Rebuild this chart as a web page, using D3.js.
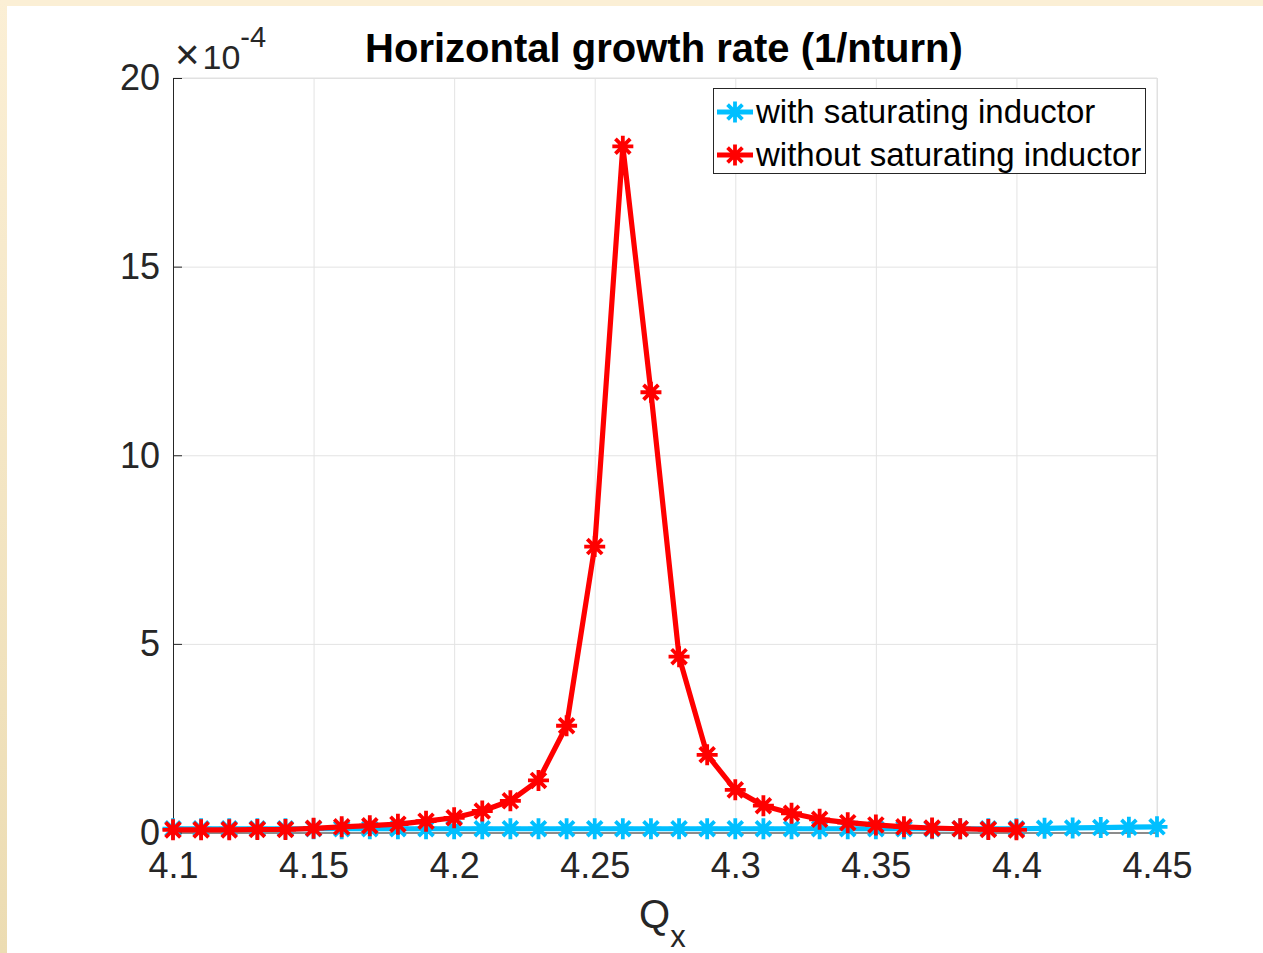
<!DOCTYPE html>
<html>
<head>
<meta charset="utf-8">
<script src="https://cdn.jsdelivr.net/npm/d3@7"></script>
<style>
  body { margin: 0; background: #fff; }
  text { font-family: "Liberation Sans", Arial, Helvetica, sans-serif; }
</style>
</head>
<body>
<svg id="chart" width="1263" height="953"></svg>
<script>
// Qx values for each series
const qxWith = [4.10, 4.11, 4.12, 4.13, 4.14, 4.15, 4.16, 4.17, 4.18, 4.19,
  4.20, 4.21, 4.22, 4.23, 4.24, 4.25, 4.26, 4.27, 4.28, 4.29,
  4.30, 4.31, 4.32, 4.33, 4.34, 4.35, 4.36, 4.37, 4.38, 4.39,
  4.40, 4.41, 4.42, 4.43, 4.44, 4.45];
// growth rate, units of 1e-4
const rateWith = [0.10, 0.10, 0.10, 0.10, 0.10, 0.10, 0.10, 0.10, 0.10, 0.10,
  0.10, 0.10, 0.10, 0.10, 0.10, 0.10, 0.10, 0.10, 0.10, 0.10,
  0.10, 0.10, 0.10, 0.10, 0.10, 0.10, 0.10, 0.10, 0.10, 0.10,
  0.10, 0.11, 0.12, 0.13, 0.14, 0.15];

const qxWithout = [4.10, 4.11, 4.12, 4.13, 4.14, 4.15, 4.16, 4.17, 4.18, 4.19,
  4.20, 4.21, 4.22, 4.23, 4.24, 4.25, 4.26, 4.27, 4.28, 4.29,
  4.30, 4.31, 4.32, 4.33, 4.34, 4.35, 4.36, 4.37, 4.38, 4.39, 4.40];
const rateWithout = [0.07, 0.07, 0.07, 0.08, 0.08, 0.11, 0.15, 0.18, 0.22, 0.30,
  0.39, 0.57, 0.84, 1.38, 2.83, 7.58, 18.19, 11.67, 4.66, 2.06,
  1.13, 0.71, 0.51, 0.35, 0.26, 0.20, 0.15, 0.12, 0.10, 0.08, 0.07];

const xTicks = [4.1, 4.15, 4.2, 4.25, 4.3, 4.35, 4.4, 4.45];
const xTickLabels = ["4.1", "4.15", "4.2", "4.25", "4.3", "4.35", "4.4", "4.45"];
const yTicks = [0, 5, 10, 15, 20];

const seriesNames = ["with saturating inductor", "without saturating inductor"];
const seriesColors = ["#00bfff", "#ff0000"];

const svg = d3.select("#chart");

// beige frame at top and left
const defs = svg.append("defs");
const grad = defs.append("linearGradient").attr("id", "beige").attr("x1", 0).attr("y1", 0).attr("x2", 0).attr("y2", 1);
grad.append("stop").attr("offset", "0%").attr("stop-color", "#fbefd5");
grad.append("stop").attr("offset", "100%").attr("stop-color", "#ecdcb2");
svg.append("rect").attr("x", 0).attr("y", 0).attr("width", 1263).attr("height", 6).attr("fill", "#fbefd5");
svg.append("rect").attr("x", 0).attr("y", 0).attr("width", 7).attr("height", 953).attr("fill", "url(#beige)");

const area = { left: 173, right: 1157, top: 78, bottom: 832.5 };

const xScale = d3.scaleLinear().domain([4.1, 4.45]).range([area.left, area.right]);
const yScale = d3.scaleLinear().domain([0, 20]).range([area.bottom, area.top]);

// grid
svg.append("g").attr("transform", `translate(0,${area.bottom})`)
  .call(d3.axisBottom(xScale).tickValues(xTicks).tickFormat("").tickSize(-(area.bottom - area.top)))
  .call((g) => g.select(".domain").remove())
  .call((g) => g.selectAll("line").attr("stroke", "#e3e3e3").attr("stroke-width", 1));
svg.append("g").attr("transform", `translate(${area.left},0)`)
  .call(d3.axisLeft(yScale).tickValues(yTicks).tickFormat("").tickSize(-(area.right - area.left)))
  .call((g) => g.select(".domain").remove())
  .call((g) => g.selectAll("line").attr("stroke", "#e3e3e3").attr("stroke-width", 1));

// box: light top and right edges
svg.append("line").attr("x1", area.left).attr("x2", area.right).attr("y1", area.top).attr("y2", area.top).attr("stroke", "#e0e0e0");
svg.append("line").attr("x1", area.right).attr("x2", area.right).attr("y1", area.top).attr("y2", area.bottom).attr("stroke", "#e0e0e0");

// axes (inside ticks)
const xAxis = svg.append("g").attr("transform", `translate(0,${area.bottom})`)
  .call(d3.axisBottom(xScale).tickValues(xTicks).tickFormat((d, i) => xTickLabels[i]).tickSizeInner(-9).tickSizeOuter(0).tickPadding(20));
const yAxis = svg.append("g").attr("transform", `translate(${area.left},0)`)
  .call(d3.axisLeft(yScale).tickValues(yTicks).tickSizeInner(-9).tickSizeOuter(0).tickPadding(13));
[xAxis, yAxis].forEach((g) => {
  g.select(".domain").attr("stroke", "#262626").attr("stroke-width", 1);
  g.selectAll(".tick line").attr("stroke", "#262626");
  g.selectAll(".tick text").attr("fill", "#262626").attr("font-size", 36)
    .attr("font-family", "'Liberation Sans', Arial, sans-serif");
});
xAxis.selectAll(".tick text").attr("dy", "0.71em");
yAxis.selectAll(".tick text").attr("dy", "0.33em");

// asterisk marker: + and x combined
function asterisk(r) {
  const d = r * Math.SQRT1_2;
  return `M${-r},0L${r},0M0,${-r}L0,${r}M${-d},${-d}L${d},${d}M${-d},${d}L${d},${-d}`;
}

const line = d3.line().x((d) => xScale(d[0])).y((d) => yScale(d[1]));
const series = [
  d3.zip(qxWith, rateWith),
  d3.zip(qxWithout, rateWithout),
];

series.forEach((pts, i) => {
  const g = svg.append("g");
  g.append("path").datum(pts).attr("d", line).attr("fill", "none")
    .attr("stroke", seriesColors[i]).attr("stroke-width", 5.2).attr("stroke-linejoin", "round");
  g.selectAll("path.mark").data(pts).join("path").attr("class", "mark")
    .attr("transform", (d) => `translate(${xScale(d[0])},${yScale(d[1])})`)
    .attr("d", asterisk(10.5))
    .attr("stroke", seriesColors[i]).attr("stroke-width", 3.8).attr("fill", "none");
});

// legend
const lg = svg.append("g");
lg.append("rect").attr("x", 713.5).attr("y", 88.5).attr("width", 432).attr("height", 85)
  .attr("fill", "#fff").attr("stroke", "#262626").attr("stroke-width", 1);
seriesNames.forEach((name, i) => {
  const cy = 112 + i * 43;
  lg.append("line").attr("x1", 717).attr("x2", 753).attr("y1", cy).attr("y2", cy)
    .attr("stroke", seriesColors[i]).attr("stroke-width", 5.2);
  lg.append("path").attr("transform", `translate(735,${cy})`).attr("d", asterisk(10.5))
    .attr("stroke", seriesColors[i]).attr("stroke-width", 3.8).attr("fill", "none");
  lg.append("text").attr("x", 756).attr("y", cy + 11).attr("font-size", 33).attr("fill", "#000").text(name);
});

// title
svg.append("text").attr("x", 664).attr("y", 62).attr("text-anchor", "middle")
  .attr("font-size", 40).attr("font-weight", "bold").attr("fill", "#000")
  .text("Horizontal growth rate (1/nturn)");

// exponent label
const ex = svg.append("text").attr("x", 175).attr("y", 69).attr("fill", "#262626").attr("font-size", 34);
ex.append("tspan").attr("font-size", 42).attr("font-weight", 300).text("\u00d7");
ex.append("tspan").attr("dx", 3).text("10");
ex.append("tspan").attr("dy", -22).attr("font-size", 29).text("-4");

// x label
const xl = svg.append("text").attr("x", 639).attr("y", 928).attr("fill", "#262626").attr("font-size", 40);
xl.append("tspan").text("Q");
xl.append("tspan").attr("dy", 19).attr("font-size", 31).text("x");
</script>
</body>
</html>
